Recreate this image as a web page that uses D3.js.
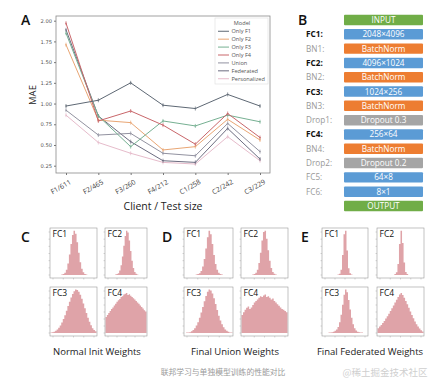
<!DOCTYPE html>
<html><head><meta charset="utf-8">
<script src="https://cdn.jsdelivr.net/npm/d3@7"></script>
<style>body{margin:0;background:#fff;} svg{display:block;font-family:"Open Sans",sans-serif;}</style>
</head><body><svg id="c" width="443" height="388"></svg>
<script>
// ---------- Panel A data ----------
const clients = ["F1/611","F2/465","F3/260","F4/212","C1/258","C2/242","C3/229"];
const models = ["Only F1","Only F2","Only F3","Only F4","Union","Federated","Personalized"];
const onlyF1 = [0.97,1.04,1.25,0.98,0.94,1.11,0.97];
const onlyF2 = [1.71,0.80,0.77,0.44,0.48,0.81,0.56];
const onlyF3 = [1.85,0.85,0.48,0.79,0.73,0.86,0.78];
const onlyF4 = [1.97,0.79,0.91,0.74,0.51,0.88,0.59];
const union = [0.92,0.62,0.64,0.40,0.37,0.76,0.42];
const federated = [1.89,0.85,0.54,0.31,0.29,0.70,0.33];
const personalized = [0.86,0.53,0.40,0.29,0.27,0.60,0.31];
const yTicks = [0.25,0.5,0.75,1.0,1.25,1.5,1.75,2.0];
const modelColors = ["#5e6874","#e9a674","#76b092","#c9666a","#9292a0","#6c6c80","#e6bccb"];

// ---------- Panel B data ----------
const layerLabels = ["","FC1:","BN1:","FC2:","BN2:","FC3:","BN3:","Drop1:","FC4:","BN4:","Drop2:","FC5:","FC6:",""];
const layerBold = [0,1,0,1,0,1,0,0,1,0,0,0,0,0];
const layerText = ["INPUT","2048×4096","BatchNorm","4096×1024","BatchNorm","1024×256","BatchNorm","Dropout 0.3","256×64","BatchNorm","Dropout 0.2","64×8","8×1","OUTPUT"];
const layerType = ["io","fc","bn","fc","bn","fc","bn","drop","fc","bn","drop","fc","fc","io"];
const typeColor = {io:"#70ad47", fc:"#5b9bd5", bn:"#ed7d31", drop:"#a5a5a5"};

// ---------- Panels C/D/E histogram data (relative bin heights) ----------
const C_FC1 = [0,0,0,0,0,0,0,0.01,0.02,0.05,0.12,0.26,0.46,0.7,0.9,1.0,0.93,0.74,0.5,0.29,0.14,0.06,0.02,0.01,0,0,0,0,0,0];
const C_FC2 = [0,0,0,0,0,0,0,0.01,0.02,0.04,0.1,0.22,0.42,0.66,0.88,1.0,0.96,0.78,0.54,0.32,0.16,0.07,0.03,0.01,0,0,0,0,0,0];
const C_FC3 = [0.01,0.02,0.03,0.05,0.08,0.12,0.17,0.24,0.32,0.41,0.51,0.62,0.72,0.82,0.9,0.96,1.0,0.99,0.95,0.88,0.79,0.68,0.57,0.46,0.35,0.26,0.18,0.11,0.07,0.04];
const C_FC4 = [0.4,0.45,0.5,0.55,0.6,0.64,0.69,0.73,0.78,0.82,0.85,0.9,0.92,0.96,0.98,1.0,0.95,0.97,0.93,0.9,0.87,0.84,0.8,0.76,0.73,0.69,0.65,0.61,0.57,0.54];
const D_FC1 = [0,0,0,0,0,0,0,0.01,0.02,0.04,0.09,0.19,0.36,0.6,0.85,1.0,0.92,0.7,0.45,0.25,0.12,0.05,0.02,0.01,0,0,0,0,0,0];
const D_FC2 = [0,0,0,0,0,0,0,0.01,0.02,0.05,0.12,0.27,0.5,0.78,0.97,1.0,0.82,0.56,0.32,0.16,0.07,0.03,0.01,0,0,0,0,0,0,0];
const D_FC3 = [0,0.01,0.01,0.02,0.04,0.07,0.11,0.17,0.25,0.35,0.47,0.6,0.73,0.85,0.95,1.0,0.98,0.91,0.8,0.67,0.53,0.4,0.29,0.2,0.13,0.08,0.05,0.03,0.01,0.01];
const D_FC4 = [0.45,0.52,0.58,0.63,0.66,0.6,0.64,0.7,0.76,0.8,0.84,0.88,0.92,0.9,0.94,0.96,0.9,0.92,0.88,0.84,0.86,0.8,0.76,0.72,0.68,0.64,0.6,0.58,0.55,0.52];
const E_FC1 = [0,0,0,0,0,0,0,0,0,0,0.01,0.03,0.12,0.45,0.92,1.0,0.55,0.15,0.04,0.01,0,0,0,0,0,0,0,0,0,0];
const E_FC2 = [0,0,0,0,0,0,0,0,0,0,0,0.02,0.06,0.25,0.7,1.0,0.72,0.28,0.07,0.02,0,0,0,0,0,0,0,0,0,0];
const E_FC3 = [0,0,0,0,0.01,0.01,0.02,0.03,0.05,0.08,0.14,0.25,0.42,0.65,0.88,1.0,0.94,0.76,0.54,0.35,0.2,0.11,0.06,0.03,0.02,0.01,0.01,0,0,0];
const E_FC4 = [0.12,0.16,0.2,0.25,0.3,0.36,0.42,0.48,0.55,0.62,0.69,0.76,0.83,0.9,0.96,1.0,0.95,0.88,0.8,0.72,0.63,0.54,0.45,0.37,0.29,0.22,0.16,0.11,0.07,0.04];
const histTitles = ["Normal Init Weights","Final Union Weights","Final Federated Weights"];
const histLabels = ["FC1","FC2","FC3","FC4"];

const svg = d3.select("#c");

// ================= Panel A =================
const A = {l:56, t:16, r:270, b:173};
const x = d3.scalePoint().domain(clients).range([66, 260]);
const y = d3.scaleLinear().domain([0.25, 2.0]).range([165.7, 20.7]);
const gA = svg.append("g");
gA.append("rect").attr("x",A.l).attr("y",A.t).attr("width",A.r-A.l).attr("height",A.b-A.t)
  .attr("fill","none").attr("stroke","#8a8a8a").attr("stroke-width",0.8);
const yAx = gA.append("g").attr("transform",`translate(${A.l},0)`)
  .call(d3.axisLeft(y).tickValues(yTicks).tickFormat(d3.format(".2f")).tickSize(2).tickPadding(2));
yAx.select(".domain").remove();
yAx.selectAll("line").attr("stroke","#777");
yAx.selectAll("text").attr("font-size",5.2).attr("fill","#555").attr("font-family","DejaVu Sans");
const xAx = gA.append("g").attr("transform",`translate(0,${A.b})`)
  .call(d3.axisBottom(x).tickSize(2).tickFormat(""));
xAx.select(".domain").remove();
xAx.selectAll("line").attr("stroke","#777");
gA.selectAll(".xl").data(clients).enter().append("text")
  .attr("transform",d=>`translate(${x(d)-4},${189}) rotate(-30)`)
  .attr("text-anchor","middle").attr("font-size",7).attr("fill","#444").text(d=>d);
gA.append("text").attr("x",163).attr("y",210).attr("text-anchor","middle").attr("font-size",10.5).attr("fill","#222").text("Client / Test size");
gA.append("text").attr("transform","translate(36,95) rotate(-90)").attr("text-anchor","middle").attr("font-size",9.5).attr("fill","#222").text("MAE");
gA.append("text").attr("x",21).attr("y",25).attr("font-size",14).attr("font-weight",600).attr("fill","#111").text("A");

const series = [onlyF1,onlyF2,onlyF3,onlyF4,union,federated,personalized];
const line = d3.line().x((d,i)=>x(clients[i])).y(d=>y(d));
[6,5,4,1,2,3,0].forEach(k=>{
  const s = series[k], c = modelColors[k];
  gA.append("path").datum(s).attr("d",line).attr("fill","none").attr("stroke",c).attr("stroke-width",1);
  gA.selectAll(null).data(s).enter().append("line")
    .attr("x1",(d,i)=>x(clients[i])).attr("x2",(d,i)=>x(clients[i]))
    .attr("y1",d=>y(d)-2).attr("y2",d=>y(d)+2).attr("stroke",c).attr("stroke-width",0.7);
  gA.selectAll(null).data(s).enter().append("line")
    .attr("x1",(d,i)=>x(clients[i])-1).attr("x2",(d,i)=>x(clients[i])+1)
    .attr("y1",d=>y(d)).attr("y2",d=>y(d)).attr("stroke",c).attr("stroke-width",0.7);
});
// legend
const lg = gA.append("g");
lg.append("rect").attr("x",215).attr("y",18).attr("width",53).attr("height",66).attr("fill","#fff").attr("stroke","#ddd").attr("stroke-width",0.6);
lg.append("text").attr("x",242).attr("y",25).attr("text-anchor","middle").attr("font-size",5.6).attr("fill","#555").text("Model");
const ly = d3.scaleBand().domain(models).range([27.3, 82.7]);
models.forEach((m,i)=>{
  const yy = ly(m) + ly.bandwidth()/2;
  lg.append("line").attr("x1",218).attr("x2",229).attr("y1",yy).attr("y2",yy).attr("stroke",modelColors[i]).attr("stroke-width",1);
  lg.append("text").attr("x",231.5).attr("y",yy+2).attr("font-size",5.6).attr("fill","#555").text(m);
});

// ================= Panel B =================
const gB = svg.append("g");
gB.append("text").attr("x",298).attr("y",25).attr("font-size",14).attr("fill","#111").attr("font-weight",600).text("B");
const rows = d3.scaleBand().domain(d3.range(layerText.length)).range([12.85, 213.15]).paddingInner(0.27).paddingOuter(0.135);
layerText.forEach((t,i)=>{
  const yy = rows(i), h = rows.bandwidth();
  gB.append("rect").attr("x",344).attr("y",yy).attr("width",79).attr("height",h).attr("rx",1).attr("fill",typeColor[layerType[i]]);
  gB.append("text").attr("x",383.5).attr("y",yy+h/2+3).attr("text-anchor","middle").attr("font-size",8.2).attr("fill","#fff").text(t);
  if (layerLabels[i]) {
    gB.append("text").attr("x",306).attr("y",yy+h/2+3).attr("font-size",8.2)
      .attr("font-weight",layerBold[i]?"bold":"normal").attr("fill",layerBold[i]?"#111":"#999").text(layerLabels[i]);
  }
});

// ================= Panels C/D/E =================
const panels = [
  {letter:"C", lx:21, title:histTitles[0], tx:97,  boxes:[[50,97],[105,147]], data:[C_FC1,C_FC2,C_FC3,C_FC4]},
  {letter:"D", lx:162, title:histTitles[1], tx:235, boxes:[[184,233],[241,288]], data:[D_FC1,D_FC2,D_FC3,D_FC4]},
  {letter:"E", lx:301, title:histTitles[2], tx:370, boxes:[[322,368],[377,424]], data:[E_FC1,E_FC2,E_FC3,E_FC4]}
];
const rowsY = [[228,278],[287,336]];
panels.forEach(p=>{
  const g = svg.append("g");
  g.append("text").attr("x",p.lx).attr("y",242).attr("font-size",14).attr("font-weight",600).attr("fill","#111").text(p.letter);
  g.append("text").attr("x",p.tx).attr("y",355).attr("text-anchor","middle").attr("font-size",9.5).attr("fill","#222").text(p.title);
  for (let k=0;k<4;k++){
    const bx = p.boxes[k%2], by = rowsY[Math.floor(k/2)];
    const data = p.data[k];
    const hx = d3.scaleLinear().domain([0, data.length]).range([bx[0]+0.5, bx[1]-0.5]);
    const hy = d3.scaleLinear().domain([0, k===3?1.15:1.06]).range([by[1]-3, by[0]]);
    const pts = data.concat([data[data.length-1]]);
    const area = d3.area().curve(d3.curveStepAfter).x((d,i)=>hx(i)).y0(hy(0)).y1(d=>hy(d));
    g.append("path").datum(pts).attr("d",area).attr("fill","#dfa3a8");
    g.append("rect").attr("x",bx[0]).attr("y",by[0]).attr("width",bx[1]-bx[0]).attr("height",by[1]-by[0])
      .attr("fill","none").attr("stroke","#999").attr("stroke-width",0.6);
    const tx = d3.scaleLinear().domain([0,4]).range([bx[0]+3, bx[1]-3]);
    const ty = d3.scaleLinear().domain([0,6]).range([by[1]-3, by[0]+4]);
    g.selectAll(null).data(d3.range(5)).enter().append("line")
      .attr("x1",d=>tx(d)).attr("x2",d=>tx(d)).attr("y1",by[1]).attr("y2",by[1]+1.5).attr("stroke","#999").attr("stroke-width",0.4);
    g.selectAll(null).data(d3.range(7)).enter().append("line")
      .attr("x1",bx[0]-1.5).attr("x2",bx[0]).attr("y1",d=>ty(d)).attr("y2",d=>ty(d)).attr("stroke","#999").attr("stroke-width",0.4);
    g.append("text").attr("x",bx[0]+2.5).attr("y",by[0]+8.5).attr("font-size",8.5).attr("fill","#111").text(histLabels[k]);
  }
});

svg.append("text").attr("x",223).attr("y",375).attr("text-anchor","middle").attr("font-size",7.8).attr("fill","#9a9a9a")
  .attr("font-family","Noto Sans CJK SC").text("联邦学习与单独模型训练的性能对比");
svg.append("text").attr("x",385).attr("y",376).attr("text-anchor","middle").attr("font-size",9.5).attr("fill","#cfcfcf")
  .attr("font-family","Noto Sans CJK SC").text("@稀土掘金技术社区");
</script></body></html>
